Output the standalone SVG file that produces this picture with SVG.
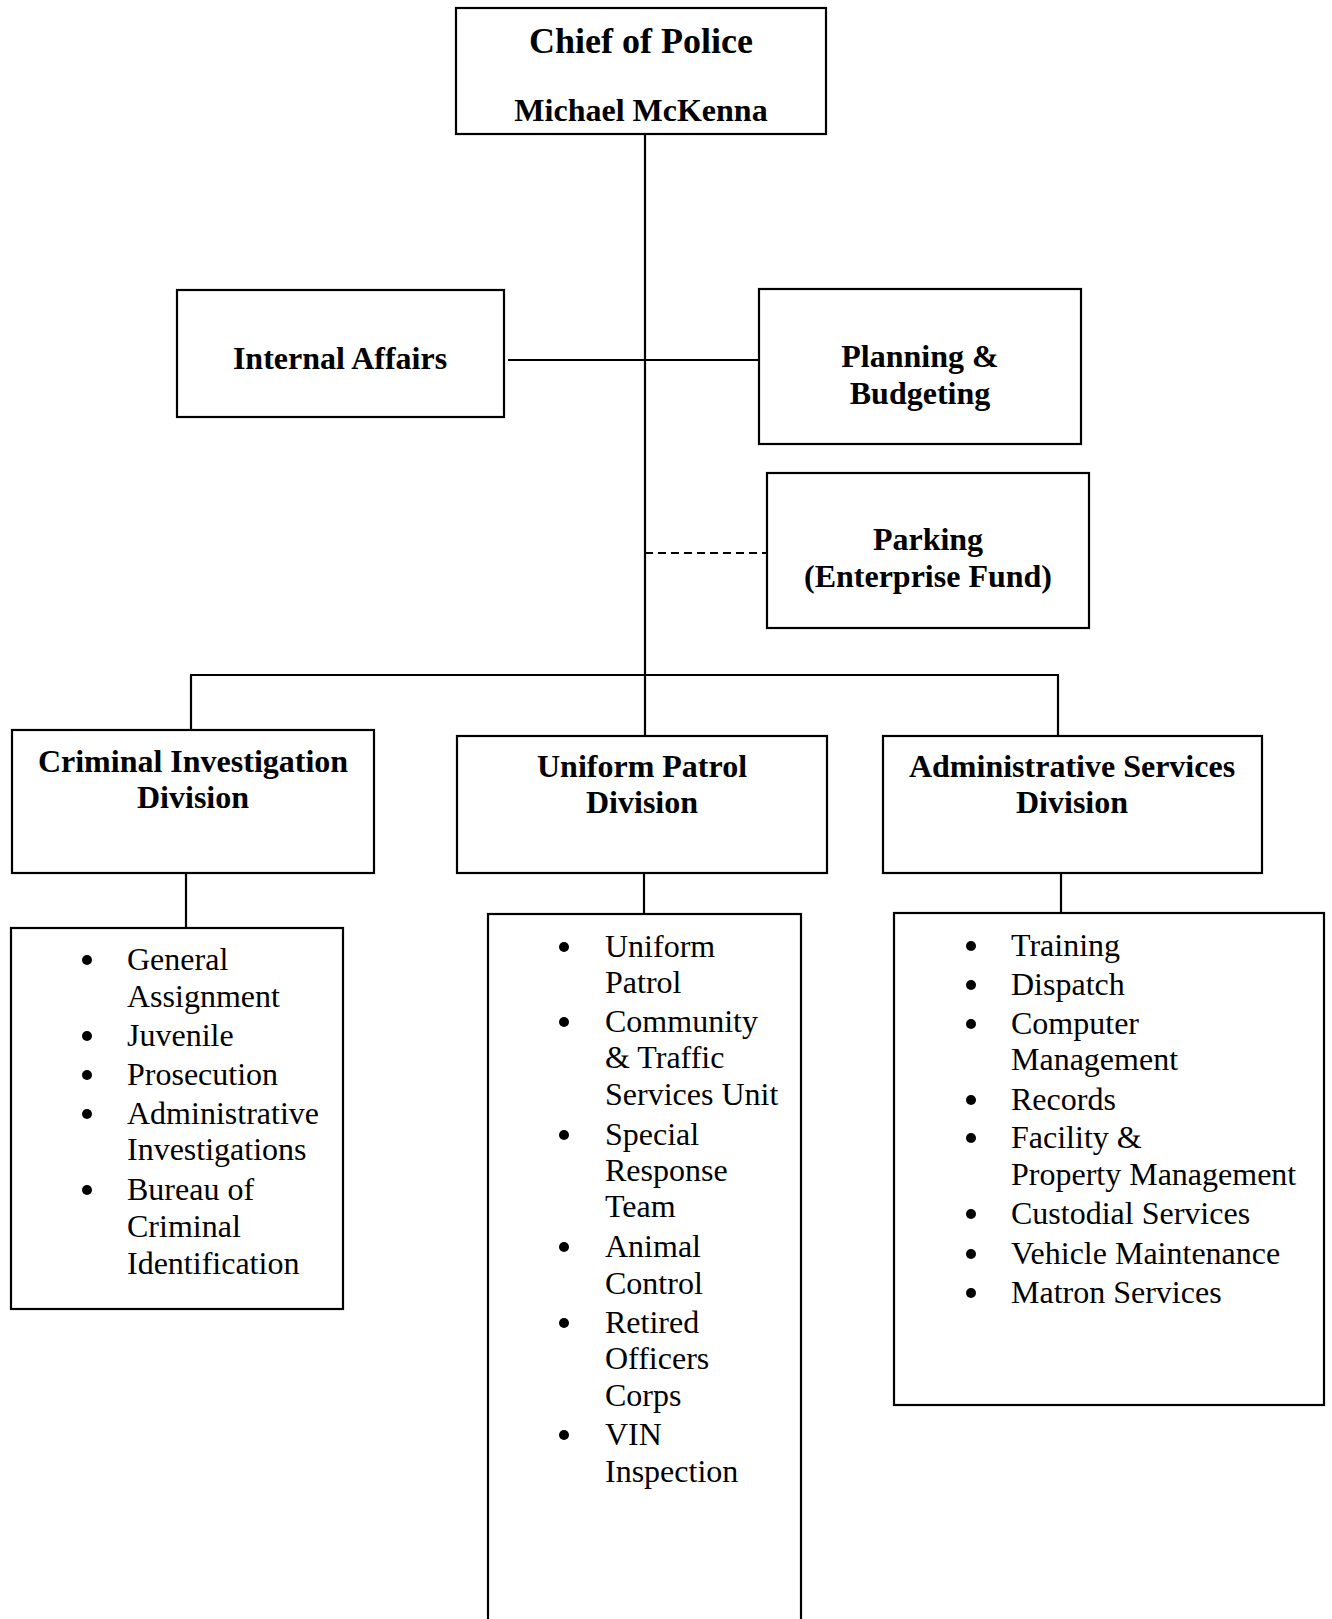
<svg xmlns="http://www.w3.org/2000/svg" width="1332" height="1619" viewBox="0 0 1332 1619">
<style>
.box{fill:#fff;stroke:#000;stroke-width:2.2}
.ln{fill:none;stroke:#000;stroke-width:2.2}
.dash{fill:none;stroke:#000;stroke-width:2;stroke-dasharray:8 5}
.t{font-family:"Liberation Serif","Times New Roman",serif;font-weight:bold;font-size:32px;text-anchor:middle;fill:#000}
.li{font-family:"Liberation Serif","Times New Roman",serif;font-size:32px;fill:#000}
.b{fill:#000}
</style>
<rect width="1332" height="1619" fill="#fff"/>
<g id="connectors">
<line class="ln" x1="645" y1="134" x2="645" y2="736"/>
<line class="ln" x1="508" y1="360" x2="759" y2="360"/>
<line class="dash" x1="645" y1="553" x2="767" y2="553"/>
<line class="ln" x1="190" y1="675" x2="1059" y2="675"/>
<line class="ln" x1="191" y1="675" x2="191" y2="730"/>
<line class="ln" x1="1058" y1="675" x2="1058" y2="736"/>
<line class="ln" x1="186" y1="873" x2="186" y2="928"/>
<line class="ln" x1="644" y1="873" x2="644" y2="914"/>
<line class="ln" x1="1061" y1="873" x2="1061" y2="913"/>
</g>
<g id="chief">
<rect class="box" x="456" y="8" width="370" height="126"/>
<text class="t" x="641" y="53" style="font-size:36px">Chief of Police</text>
<text class="t" x="641" y="121">Michael McKenna</text>
</g>
<g id="internal-affairs">
<rect class="box" x="177" y="290" width="327" height="127"/>
<text class="t" x="340" y="369">Internal Affairs</text>
</g>
<g id="planning">
<rect class="box" x="759" y="289" width="322" height="155"/>
<text class="t" x="920" y="367">Planning &amp;</text>
<text class="t" x="920" y="404">Budgeting</text>
</g>
<g id="parking">
<rect class="box" x="767" y="473" width="322" height="155"/>
<text class="t" x="928" y="550">Parking</text>
<text class="t" x="928" y="587">(Enterprise Fund)</text>
</g>
<g id="cid">
<rect class="box" x="12" y="730" width="362" height="143"/>
<text class="t" x="193" y="772">Criminal Investigation</text>
<text class="t" x="193" y="808">Division</text>
</g>
<g id="upd">
<rect class="box" x="457" y="736" width="370" height="137"/>
<text class="t" x="642" y="777">Uniform Patrol</text>
<text class="t" x="642" y="813">Division</text>
</g>
<g id="asd">
<rect class="box" x="883" y="736" width="379" height="137"/>
<text class="t" x="1072" y="777">Administrative Services</text>
<text class="t" x="1072" y="813">Division</text>
</g>
<g id="cid-list">
<rect class="box" x="11" y="928" width="332" height="381"/>
<circle class="b" cx="87" cy="960" r="5"/>
<circle class="b" cx="87" cy="1036" r="5"/>
<circle class="b" cx="87" cy="1075" r="5"/>
<circle class="b" cx="87" cy="1114" r="5"/>
<circle class="b" cx="87" cy="1190" r="5"/>
<text class="li" x="127" y="970">General</text>
<text class="li" x="127" y="1007">Assignment</text>
<text class="li" x="127" y="1046">Juvenile</text>
<text class="li" x="127" y="1085">Prosecution</text>
<text class="li" x="127" y="1124">Administrative</text>
<text class="li" x="127" y="1160">Investigations</text>
<text class="li" x="127" y="1200">Bureau of</text>
<text class="li" x="127" y="1237">Criminal</text>
<text class="li" x="127" y="1274">Identification</text>
</g>
<g id="upd-list">
<rect class="box" x="488" y="914" width="313" height="760"/>
<circle class="b" cx="564" cy="947" r="5"/>
<circle class="b" cx="564" cy="1022" r="5"/>
<circle class="b" cx="564" cy="1135" r="5"/>
<circle class="b" cx="564" cy="1247" r="5"/>
<circle class="b" cx="564" cy="1323" r="5"/>
<circle class="b" cx="564" cy="1435" r="5"/>
<text class="li" x="605" y="957">Uniform</text>
<text class="li" x="605" y="993">Patrol</text>
<text class="li" x="605" y="1032">Community</text>
<text class="li" x="605" y="1068">&amp; Traffic</text>
<text class="li" x="605" y="1105">Services Unit</text>
<text class="li" x="605" y="1145">Special</text>
<text class="li" x="605" y="1181">Response</text>
<text class="li" x="605" y="1217">Team</text>
<text class="li" x="605" y="1257">Animal</text>
<text class="li" x="605" y="1294">Control</text>
<text class="li" x="605" y="1333">Retired</text>
<text class="li" x="605" y="1369">Officers</text>
<text class="li" x="605" y="1406">Corps</text>
<text class="li" x="605" y="1445">VIN</text>
<text class="li" x="605" y="1482">Inspection</text>
</g>
<g id="asd-list">
<rect class="box" x="894" y="913" width="430" height="492"/>
<circle class="b" cx="971" cy="946" r="5"/>
<circle class="b" cx="971" cy="985" r="5"/>
<circle class="b" cx="971" cy="1024" r="5"/>
<circle class="b" cx="971" cy="1100" r="5"/>
<circle class="b" cx="971" cy="1138" r="5"/>
<circle class="b" cx="971" cy="1214" r="5"/>
<circle class="b" cx="971" cy="1254" r="5"/>
<circle class="b" cx="971" cy="1293" r="5"/>
<text class="li" x="1011" y="956">Training</text>
<text class="li" x="1011" y="995">Dispatch</text>
<text class="li" x="1011" y="1034">Computer</text>
<text class="li" x="1011" y="1070">Management</text>
<text class="li" x="1011" y="1110">Records</text>
<text class="li" x="1011" y="1148">Facility &amp;</text>
<text class="li" x="1011" y="1185">Property Management</text>
<text class="li" x="1011" y="1224">Custodial Services</text>
<text class="li" x="1011" y="1264">Vehicle Maintenance</text>
<text class="li" x="1011" y="1303">Matron Services</text>
</g>
</svg>
